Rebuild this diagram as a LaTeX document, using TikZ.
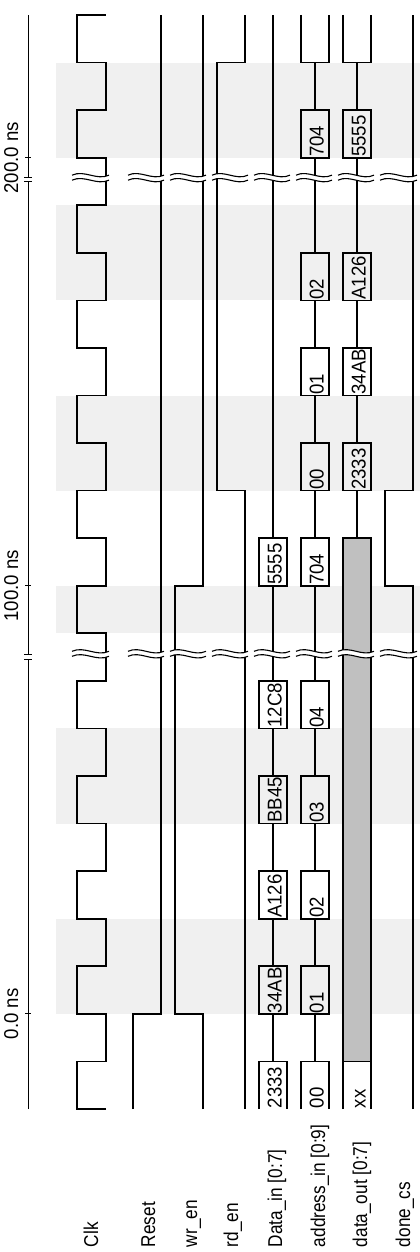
\documentclass[tikz,border=0pt]{standalone}
\usepackage{fontspec}
\setmainfont{Liberation Sans}
\usetikzlibrary{positioning}

\definecolor{bandgray}{HTML}{F0F0F0}
\definecolor{busgray}{HTML}{C0C0C0}

% text is a little narrower than the font
\newcommand{\tlabel}[1]{\scalebox{0.93}[1]{#1}}
\newcommand{\nlabel}[1]{\scalebox{0.86}[1]{#1}}

% break mark over one signal column: #1 left, #2 right, #3 position
\newcommand{\wavebreak}[3]{%
  \draw[white, line width=4.5bp] (#1,#3) .. controls ({#1+(#2-#1)/3},{#3+0.12}) and ({#1+2*(#2-#1)/3},{#3-0.12}) .. (#2,#3);
  \draw[line width=1.1bp, yshift=2.5bp] (#1,#3) .. controls ({#1+(#2-#1)/3},{#3+0.12}) and ({#1+2*(#2-#1)/3},{#3-0.12}) .. (#2,#3);
  \draw[line width=1.1bp, yshift=-2.5bp] (#1,#3) .. controls ({#1+(#2-#1)/3},{#3+0.12}) and ({#1+2*(#2-#1)/3},{#3-0.12}) .. (#2,#3);
}

\tikzset{
  vtxt/.style={rotate=90, anchor=base west},
  axis/.style={line width=1bp}
}

\begin{document}
\begin{tikzpicture}[x=1bp, y=47.565bp, line width=1.7bp, every node/.style={font=\fontsize{20bp}{24bp}\selectfont, inner sep=0pt}]
	\useasboundingbox (0,-3.0064) rectangle (420,23.3155);

	% grey bands
	\fill[bandgray] (56,2) rectangle (420,4);
	\fill[bandgray] (56,6) rectangle (420,8);
	\fill[bandgray] (56,10) rectangle (420,11);
	\fill[bandgray] (56,13) rectangle (420,15);
	\fill[bandgray] (56,17) rectangle (420,19);
	\fill[bandgray] (56,20) rectangle (420,22);

	% Clk
	\draw (106,0) -- (77,0) -- (77,1) -- (106,1) -- (106,2) -- (77,2) -- (77,3) -- (106,3) -- (106,4) -- (77,4)
	-- (77,5) -- (106,5) -- (106,6) -- (77,6) -- (77,7) -- (106,7) -- (106,8) -- (77,8) -- (77,9) -- (106,9)
	-- (106,10) -- (77,10) -- (77,11) -- (106,11) -- (106,12) -- (77,12) -- (77,13) -- (106,13) -- (106,14) -- (77,14)
	-- (77,15) -- (106,15) -- (106,16) -- (77,16) -- (77,17) -- (106,17) -- (106,18) -- (77,18) -- (77,19) -- (106,19)
	-- (106,20) -- (77,20) -- (77,21) -- (106,21) -- (106,22) -- (77,22) -- (77,23) -- (106,23);

	% Reset, wr_en, rd_en, done_cs
	\draw (133,0) -- (133,2) -- (161,2) -- (161,23);
	\draw (203,0) -- (203,2) -- (175,2) -- (175,11) -- (203,11) -- (203,23);
	\draw (245,0) -- (245,13) -- (217,13) -- (217,22) -- (245,22) -- (245,23);
	\draw (413,0) -- (413,11) -- (385,11) -- (385,13) -- (413,13) -- (413,23);

	% Data_in
	\draw (259,0) -- (259,1) -- (287,1) -- (287,0);
	\draw (273,1) -- (273,2);
	\draw (259,2) rectangle (287,3);
	\draw (273,3) -- (273,4);
	\draw (259,4) rectangle (287,5);
	\draw (273,5) -- (273,6);
	\draw (259,6) rectangle (287,7);
	\draw (273,7) -- (273,8);
	\draw (259,8) rectangle (287,9);
	\draw (273,9) -- (273,11);
	\draw (259,11) rectangle (287,12);
	\draw (273,12) -- (273,23);

	% address_in
	\draw (301,0) -- (301,1) -- (329,1) -- (329,0);
	\draw (315,1) -- (315,2);
	\draw (301,2) rectangle (329,3);
	\draw (315,3) -- (315,4);
	\draw (301,4) rectangle (329,5);
	\draw (315,5) -- (315,6);
	\draw (301,6) rectangle (329,7);
	\draw (315,7) -- (315,8);
	\draw (301,8) rectangle (329,9);
	\draw (315,9) -- (315,11);
	\draw (301,11) rectangle (329,12);
	\draw (315,12) -- (315,13);
	\draw (301,13) rectangle (329,14);
	\draw (315,14) -- (315,15);
	\draw (301,15) rectangle (329,16);
	\draw (315,16) -- (315,17);
	\draw (301,17) rectangle (329,18);
	\draw (315,18) -- (315,20);
	\draw (301,20) rectangle (329,21);
	\draw (315,21) -- (315,22);
	\draw (301,23) -- (301,22) -- (329,22) -- (329,23);

	% data_out
	\draw (343,0) -- (343,1) -- (371,1) -- (371,0);
	\draw[fill=busgray] (343,1) rectangle (371,12);
	\draw (357,12) -- (357,13);
	\draw (343,13) rectangle (371,14);
	\draw (357,14) -- (357,15);
	\draw (343,15) rectangle (371,16);
	\draw (357,16) -- (357,17);
	\draw (343,17) rectangle (371,18);
	\draw (357,18) -- (357,20);
	\draw (343,20) rectangle (371,21);
	\draw (357,21) -- (357,22);
	\draw (343,23) -- (343,22) -- (371,22) -- (371,23);

	% values
	\node[vtxt] (din0) at (281.5,0) {\tlabel{2333}};
	\node[vtxt] (din2) at (281.5,2) {\tlabel{34AB}};
	\node[vtxt] (din4) at (281.5,4) {\tlabel{A126}};
	\node[vtxt] (din6) at (281.5,6) {\tlabel{BB45}};
	\node[vtxt] (din8) at (281.5,8) {\tlabel{12C8}};
	\node[vtxt] (din11) at (281.5,11) {\tlabel{5555}};

	\node[vtxt] (adr0) at (323.5,0) {\tlabel{00}};
	\node[vtxt] (adr2) at (323.5,2) {\tlabel{01}};
	\node[vtxt] (adr4) at (323.5,4) {\tlabel{02}};
	\node[vtxt] (adr6) at (323.5,6) {\tlabel{03}};
	\node[vtxt] (adr8) at (323.5,8) {\tlabel{04}};
	\node[vtxt] (adr11) at (323.5,11) {\tlabel{704}};
	\node[vtxt] (adr13) at (323.5,13) {\tlabel{00}};
	\node[vtxt] (adr15) at (323.5,15) {\tlabel{01}};
	\node[vtxt] (adr17) at (323.5,17) {\tlabel{02}};
	\node[vtxt] (adr20) at (323.5,20) {\tlabel{704}};

	\node[vtxt] (dout0) at (365.5,0) {\tlabel{xx}};
	\node[vtxt] (dout13) at (365.5,13) {\tlabel{2333}};
	\node[vtxt] (dout15) at (365.5,15) {\tlabel{34AB}};
	\node[vtxt] (dout17) at (365.5,17) {\tlabel{A126}};
	\node[vtxt] (dout20) at (365.5,20) {\tlabel{5555}};

	% breaks
	\wavebreak{72}{109}{9.57}
	\wavebreak{128}{164}{9.57}
	\wavebreak{170}{206}{9.57}
	\wavebreak{212}{248}{9.57}
	\wavebreak{254}{290}{9.57}
	\wavebreak{296}{332}{9.57}
	\wavebreak{338}{374}{9.57}
	\wavebreak{380}{417}{9.57}

	\wavebreak{72}{109}{19.58}
	\wavebreak{128}{164}{19.58}
	\wavebreak{170}{206}{19.58}
	\wavebreak{212}{248}{19.58}
	\wavebreak{254}{290}{19.58}
	\wavebreak{296}{332}{19.58}
	\wavebreak{338}{374}{19.58}
	\wavebreak{380}{417}{19.58}

	% time axis
	\draw[axis] (28,0) -- (28,9.46);
	\draw[axis] (28,9.56) -- (28,19.49);
	\draw[axis] (28,19.59) -- (28,23);
	\draw[axis] (25,2) -- (31,2);
	\draw[axis] (25,11) -- (31,11);
	\draw[axis] (25,20) -- (31,20);
	\draw[axis] (24,9.46) -- (32,9.46);
	\draw[axis] (24,9.56) -- (32,9.56);
	\draw[axis] (24,19.49) -- (32,19.49);
	\draw[axis] (24,19.59) -- (32,19.59);

	\node[rotate=90, anchor=base] (t0) at (18,2) {\tlabel{0.0 ns}};
	\node[rotate=90, anchor=base] (t100) at (18,11) {\tlabel{100.0 ns}};
	\node[rotate=90, anchor=base] (t200) at (18,20) {\tlabel{200.0 ns}};

	% signal names
	\node[vtxt] (lclk) at (98,-2.92) {\nlabel{Clk}};
	\node[vtxt] (lreset) at (155,-2.92) {\nlabel{Reset}};
	\node[vtxt] (lwr) at (197,-2.92) {\nlabel{wr\_en}};
	\node[vtxt] (lrd) at (238,-2.92) {\nlabel{rd\_en}};
	\node[vtxt] (ldin) at (282,-2.92) {\nlabel{Data\_in [0:7]}};
	\node[vtxt] (ladr) at (325,-2.92) {\nlabel{address\_in [0:9]}};
	\node[vtxt] (ldout) at (367,-2.92) {\nlabel{data\_out [0:7]}};
	\node[vtxt] (ldone) at (410,-2.92) {\nlabel{done\_cs}};

\end{tikzpicture}
\end{document}
